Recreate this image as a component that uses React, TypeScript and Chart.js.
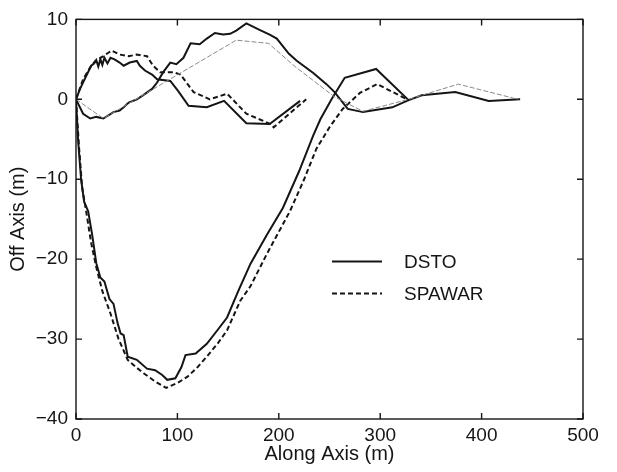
import React, { useEffect, useRef } from 'react';
import { Chart, registerables } from 'chart.js';

Chart.register(...registerables);

// ---- axis ticks ----
const xTickValues = [0, 100, 200, 300, 400, 500];
const yTickValues = [-40, -30, -20, -10, 0, 10];
const xTitle = 'Along Axis (m)';
const yTitle = 'Off Axis (m)';
const legendLabels = ['DSTO', 'SPAWAR'];

// ---- DSTO runs (solid) ----
const dstoLoopX = [0, 2, 5, 8, 12, 16, 20, 24, 28, 33, 37, 41, 44, 47, 51, 60, 70, 78, 85, 90, 98, 104, 108, 118, 129, 140, 149, 160, 172, 188, 204, 220, 234, 241, 252, 265, 296, 328, 341, 374, 407, 438];
const dstoLoopY = [0, -5, -10, -12.8, -14, -17, -20.5, -22.3, -22.8, -25, -25.6, -28, -29.3, -29.5, -32.2, -32.6, -33.7, -33.9, -34.5, -35.1, -34.9, -33.5, -32, -31.8, -30.6, -28.8, -27.3, -24, -20.6, -17, -13.6, -9, -4.5, -2.5, 0, 2.7, 3.8, -0.1, 0.5, 0.9, -0.2, 0];

const dstoUpperX = [0, 7, 14, 20, 27, 37, 43, 47, 52, 60, 66, 75, 80, 86, 93, 99, 106, 113, 122, 129, 137, 145, 152, 158, 168, 181, 191, 198, 210, 218, 234, 247, 255, 268, 283, 312, 328];
const dstoUpperY = [0, -1.8, -2.4, -2.2, -2.4, -1.6, -1.4, -1.0, -0.4, 0.0, 0.5, 1.3, 2.1, 3.4, 4.6, 4.4, 5.2, 7.0, 6.9, 7.6, 8.3, 8.1, 8.2, 8.6, 9.5, 8.7, 8.1, 7.6, 5.7, 4.8, 3.3, 1.9, 0.9, -1.2, -1.6, -1.0, -0.1];

const dstoShortX = [0, 4, 10, 15, 18, 20, 22, 24, 26, 28, 31, 34, 38, 43, 47, 53, 60, 63, 68, 75, 80, 93, 101, 111, 129, 146, 168, 191, 221];
const dstoShortY = [0, 1.3, 2.9, 4.2, 4.5, 4.9, 4.1, 5.0, 4.3, 5.2, 4.5, 5.2, 5.0, 4.6, 4.2, 4.6, 4.8, 4.2, 3.6, 3.1, 2.5, 2.3, 1.0, -0.8, -1.0, -0.2, -3.0, -3.1, -0.2];

// ---- SPAWAR runs (dashed) ----
const spawarLoopX = [0, 3, 6, 10, 15, 20, 26, 34, 42, 51, 60, 67, 78, 89, 100, 110, 120, 129, 140, 149, 162, 172, 188, 211, 225, 237, 250, 263, 280, 297, 328];
const spawarLoopY = [0, -6, -11, -14, -18, -21, -24, -26.8, -30, -32.6, -33.6, -34.3, -35.3, -36.1, -35.5, -34.7, -33.5, -32.2, -30.5, -28.9, -25.2, -23.4, -19.4, -14, -10, -6.2, -3.5, -1.2, 0.8, 1.9, -0.1];

const spawarShortX = [0, 7, 14, 19, 27, 35, 43, 52, 60, 70, 76, 83, 96, 103, 116, 132, 149, 168, 192, 195, 227];
const spawarShortY = [0, 2.5, 4.0, 4.8, 5.4, 6.1, 5.6, 5.4, 5.6, 5.4, 4.2, 3.4, 3.4, 3.1, 0.9, 0.0, 0.7, -1.8, -3.1, -3.5, 0.0];

const spawarUpperX = [0, 27, 158, 190, 215, 255, 283, 328, 377, 436];
const spawarUpperY = [0, -2.4, 7.4, 7.0, 4.2, 0.3, -1.5, 0, 1.9, 0];

const FONT = '"Liberation Sans", Arial, Helvetica, sans-serif';
const FONT_SIZE = 19;
const TITLE_SIZE = 20;
const INK = '#151515';
const SPAWAR_DASH = [5, 3];

function zip(xs: number[], ys: number[]) {
  return xs.map((x, i) => ({ x, y: ys[i] }));
}

const boxPlugin = {
  id: 'matlabBox',
  afterDraw(chart: any) {
    const { ctx, chartArea: a, scales } = chart;
    ctx.save();
    ctx.strokeStyle = INK;
    ctx.lineWidth = 1.4;
    ctx.setLineDash([]);
    ctx.strokeRect(a.left, a.top, a.right - a.left, a.bottom - a.top);
    const L = 6;
    ctx.beginPath();
    for (const v of xTickValues) {
      const p = scales.x.getPixelForValue(v);
      ctx.moveTo(p, a.bottom);
      ctx.lineTo(p, a.bottom - L);
      ctx.moveTo(p, a.top);
      ctx.lineTo(p, a.top + L);
    }
    for (const v of yTickValues) {
      const p = scales.y.getPixelForValue(v);
      ctx.moveTo(a.left, p);
      ctx.lineTo(a.left + L, p);
      ctx.moveTo(a.right, p);
      ctx.lineTo(a.right - L, p);
    }
    ctx.stroke();

    // legend (no frame), inside the plot area
    const sx0 = a.left + 256;
    const sx1 = a.left + 306;
    const tx = a.left + 328;
    const rows = [a.top + 242, a.top + 274];
    legendLabels.forEach((lab, i) => {
      const ds = chart.data.datasets.find((d: any) => d.label === lab);
      if (!ds) return;
      const y = rows[i];
      ctx.beginPath();
      ctx.strokeStyle = ds.borderColor;
      ctx.lineWidth = ds.borderWidth;
      ctx.setLineDash(ds.borderDash || []);
      ctx.moveTo(sx0, y);
      ctx.lineTo(sx1, y);
      ctx.stroke();
      ctx.setLineDash([]);
      ctx.fillStyle = INK;
      ctx.font = `${FONT_SIZE}px ${FONT}`;
      ctx.textAlign = 'left';
      ctx.textBaseline = 'middle';
      ctx.fillText(lab, tx, y + 1);
    });
    ctx.restore();
  },
};

export default function App() {
  const ref = useRef<HTMLCanvasElement | null>(null);

  useEffect(() => {
    if (!ref.current) return;
    const solid = (label: string, xs: number[], ys: number[]) => ({
      label,
      data: zip(xs, ys),
      showLine: true,
      borderColor: INK,
      borderWidth: 2,
      borderDash: [],
      pointRadius: 0,
      tension: 0,
    });
    const dashed = (label: string, xs: number[], ys: number[]) => ({
      label,
      data: zip(xs, ys),
      showLine: true,
      borderColor: INK,
      borderWidth: 2,
      borderDash: SPAWAR_DASH,
      pointRadius: 0,
      tension: 0,
    });
    const thin = {
      label: 'SPAWAR (upper)',
      data: zip(spawarUpperX, spawarUpperY),
      showLine: true,
      borderColor: '#8a8a8a',
      borderWidth: 1,
      borderDash: [5, 2],
      pointRadius: 0,
      tension: 0,
    };

    const tickFont = { family: FONT, size: FONT_SIZE };
    const chart = new Chart(ref.current, {
      type: 'scatter',
      data: {
        datasets: [
          thin,
          dashed('SPAWAR', spawarLoopX, spawarLoopY),
          dashed('SPAWAR (short)', spawarShortX, spawarShortY),
          solid('DSTO', dstoLoopX, dstoLoopY),
          solid('DSTO (upper)', dstoUpperX, dstoUpperY),
          solid('DSTO (short)', dstoShortX, dstoShortY),
        ] as any,
      },
      options: {
        animation: false,
        responsive: false,
        devicePixelRatio: 1,
        layout: { padding: { top: 17, right: 34, left: 0, bottom: 0 } },
        plugins: {
          legend: { display: false },
          tooltip: { enabled: false },
        },
        scales: {
          x: {
            type: 'linear',
            min: 0,
            max: 500,
            afterBuildTicks: (s: any) => {
              s.ticks = xTickValues.map((v) => ({ value: v }));
            },
            afterFit: (s: any) => {
              s.height = 53;
            },
            grid: { display: false, drawTicks: false, tickLength: 0 },
            border: { display: false },
            ticks: {
              color: INK,
              font: tickFont,
              padding: 5,
              maxRotation: 0,
              autoSkip: false,
            },
            title: {
              display: true,
              text: xTitle,
              color: INK,
              font: { family: FONT, size: TITLE_SIZE, lineHeight: 1.2 },
              padding: { top: 0, bottom: 6 },
            },
          },
          y: {
            type: 'linear',
            min: -40,
            max: 10,
            afterBuildTicks: (s: any) => {
              s.ticks = yTickValues.map((v) => ({ value: v }));
            },
            afterFit: (s: any) => {
              s.width = 76;
            },
            grid: { display: false, drawTicks: false, tickLength: 0 },
            border: { display: false },
            ticks: {
              color: INK,
              font: tickFont,
              padding: 8,
              autoSkip: false,
              callback: (v: any) => String(v).replace('-', '\u2212'),
            },
            title: {
              display: true,
              text: yTitle,
              color: INK,
              font: { family: FONT, size: TITLE_SIZE, lineHeight: 1.2 },
              padding: { top: 6, bottom: 0 },
            },
          },
        },
      },
      plugins: [boxPlugin],
    } as any);
    return () => chart.destroy();
  }, []);

  return (
    <div style={{ position: 'absolute', left: 0, top: 0, width: 617, height: 472, background: '#fff' }}>
      <canvas ref={ref} width={617} height={472} style={{ display: 'block' }} />
    </div>
  );
}
